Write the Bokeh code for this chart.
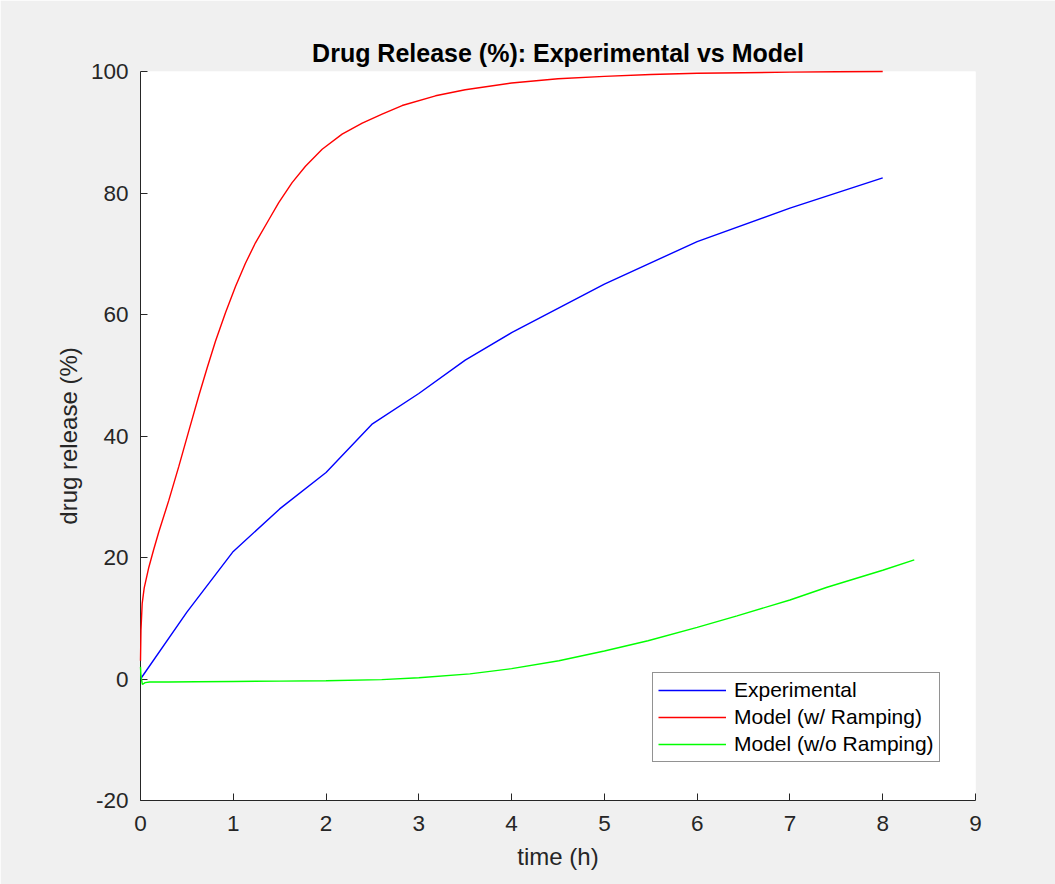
from bokeh.plotting import figure
from bokeh.models import Range1d, FixedTicker, Legend, LegendItem
from bokeh.embed import file_html
from bokeh.resources import INLINE

# Experimental release measurements
exp_time = [0, 0.5, 1, 1.5, 2, 2.5, 3, 3.5, 4, 5, 6, 7, 8]
exp_release = [0, 11, 21, 28, 34, 42, 47, 52.5, 57, 65, 72, 77.5, 82.5]

# Model with ramping
ramp_time = [0, 0.005, 0.018, 0.04, 0.09, 0.14, 0.197, 0.305, 0.413, 0.52,
             0.63, 0.718, 0.808, 0.916, 1.024, 1.13, 1.239, 1.383, 1.49,
             1.634, 1.778, 1.958, 2.173, 2.39, 2.604, 2.82, 3.18, 3.5, 4,
             4.5, 5, 5.5, 6, 6.5, 7, 7.5, 8]
ramp_release = [3.0, 8.0, 12.4, 15.0, 18.4, 21.2, 24.2, 29.4, 35.0, 40.8,
                46.7, 51.2, 55.6, 60.3, 64.6, 68.4, 71.8, 75.6, 78.4,
                81.7, 84.4, 87.2, 89.7, 91.5, 93.0, 94.4, 96.0, 97.0, 98.1,
                98.8, 99.2, 99.5, 99.7, 99.8, 99.9, 99.95, 100]

# Model without ramping
noramp_time = [0, 0.005, 0.02, 0.05, 0.1, 0.3, 0.6, 1.0, 1.5, 2.0, 2.6, 3.0,
               3.55, 4.0, 4.51, 5.0, 5.47, 6.0, 6.43, 7.0, 7.4, 8.0, 8.34]
noramp_release = [2.0, 0.5, -0.9, -0.6, -0.5, -0.5, -0.45, -0.4, -0.35, -0.3,
                  -0.1, 0.2, 0.85, 1.7, 3.0, 4.6, 6.3, 8.5, 10.4, 13.0, 15.1,
                  17.9, 19.6]

x_ticks = [0, 1, 2, 3, 4, 5, 6, 7, 8, 9]
y_ticks = [-20, 0, 20, 40, 60, 80, 100]

FONT = "Liberation Sans"
AX = "#262626"

p = figure(width=1055, height=884, output_backend="svg", toolbar_location=None,
           x_range=Range1d(0, 9), y_range=Range1d(-20, 100),
           min_border_left=140, min_border_right=80,
           min_border_top=71, min_border_bottom=84,
           title="Drug Release (%): Experimental vs Model")

p.border_fill_color = "#f0f0f0"
p.background_fill_color = "white"
p.outline_line_color = None
p.grid.visible = False

p.title.align = "center"
p.title.text_font = FONT
p.title.text_font_size = "25px"
p.title.text_font_style = "bold"
p.title.text_color = "black"
p.title.offset = 0

for ax in (p.xaxis[0], p.yaxis[0]):
    ax.axis_line_color = AX
    ax.major_tick_line_color = AX
    ax.major_tick_in = 7
    ax.major_tick_out = 0
    ax.minor_tick_line_color = None
    ax.major_label_text_font = FONT
    ax.major_label_text_font_size = "22.5px"
    ax.major_label_text_color = AX
    ax.axis_label_text_font = FONT
    ax.axis_label_text_font_size = "24px"
    ax.axis_label_text_font_style = "normal"
    ax.axis_label_text_color = AX

p.xaxis.major_label_standoff = 15
p.yaxis.major_label_standoff = 12
p.xaxis.ticker = FixedTicker(ticks=x_ticks)
p.yaxis.ticker = FixedTicker(ticks=y_ticks)
p.yaxis.major_label_overrides = {-20: "-20"}
p.xaxis.axis_label = "time (h)"
p.yaxis.axis_label = "drug release (%)"
p.xaxis.axis_label_standoff = 9
p.yaxis.axis_label_standoff = 6

r_exp = p.line(exp_time, exp_release, line_color="#0000ff", line_width=1.4,
               level="overlay")
r_ramp = p.line(ramp_time, ramp_release, line_color="#ff0000", line_width=1.4,
                level="overlay")
r_noramp = p.line(noramp_time, noramp_release, line_color="#00ff00",
                  line_width=1.4, level="overlay")

legend = Legend(items=[
    LegendItem(label="Experimental", renderers=[r_exp]),
    LegendItem(label="Model (w/ Ramping)", renderers=[r_ramp]),
    LegendItem(label="Model (w/o Ramping)", renderers=[r_noramp]),
], location=(512, 38))
legend.label_text_font = FONT
legend.label_text_font_size = "21px"
legend.label_text_color = "black"
legend.glyph_width = 68
legend.label_standoff = 8
legend.padding = 5
legend.spacing = 3
legend.label_height = 24
legend.border_line_color = AX
legend.border_line_width = 1
legend.background_fill_color = "white"
legend.background_fill_alpha = 1
legend.margin = 0
p.add_layout(legend, "center")

open("out.html", "w").write(file_html(p, INLINE))
